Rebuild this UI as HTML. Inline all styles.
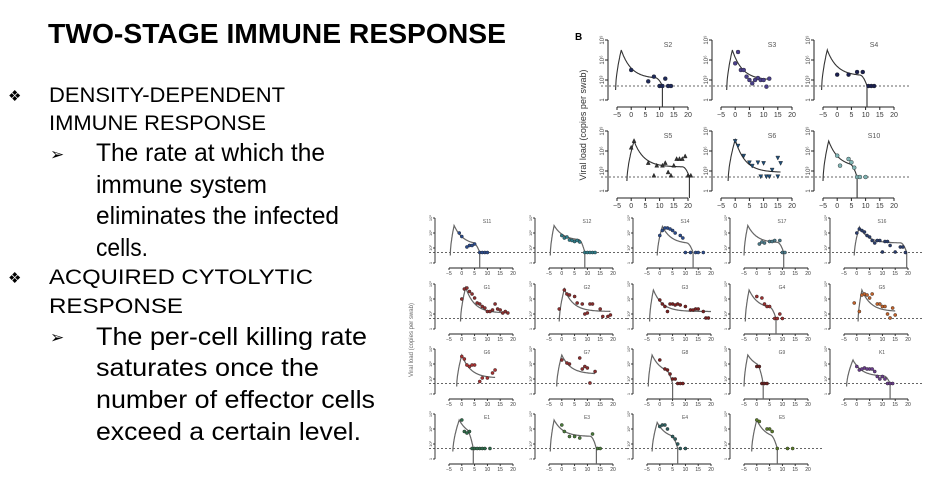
<!DOCTYPE html>
<html><head><meta charset="utf-8"><style>
body{margin:0;background:#fff;width:950px;height:477px;overflow:hidden}
svg{position:absolute;left:0;top:0}
</style></head><body>
<svg id="s" width="950" height="477" xmlns="http://www.w3.org/2000/svg" font-family="Liberation Sans, sans-serif">
<text x="48" y="43" font-size="28" font-weight="bold" textLength="458" lengthAdjust="spacingAndGlyphs">TWO-STAGE IMMUNE RESPONSE</text>
<g font-size="21">
<text x="8" y="101" font-size="15">❖</text>
<text x="49" y="102" textLength="236" lengthAdjust="spacingAndGlyphs">DENSITY-DEPENDENT</text>
<text x="49" y="130" textLength="217" lengthAdjust="spacingAndGlyphs">IMMUNE RESPONSE</text>
<text x="50" y="160" font-size="17">➢</text>
<g font-size="25">
<text x="96" y="161" textLength="229" lengthAdjust="spacingAndGlyphs">The rate at which the</text>
<text x="96" y="193" textLength="171" lengthAdjust="spacingAndGlyphs">immune system</text>
<text x="96" y="224" textLength="243" lengthAdjust="spacingAndGlyphs">eliminates the infected</text>
<text x="96" y="256" textLength="52" lengthAdjust="spacingAndGlyphs">cells.</text>
</g>
<text x="8" y="283" font-size="15">❖</text>
<text x="49" y="284" textLength="264" lengthAdjust="spacingAndGlyphs">ACQUIRED CYTOLYTIC</text>
<text x="49" y="313" textLength="134" lengthAdjust="spacingAndGlyphs">RESPONSE</text>
<text x="50" y="343" font-size="17">➢</text>
<g font-size="25">
<text x="96" y="345" textLength="271" lengthAdjust="spacingAndGlyphs">The per-cell killing rate</text>
<text x="96" y="376" textLength="223" lengthAdjust="spacingAndGlyphs">saturates once the</text>
<text x="96" y="408" textLength="279" lengthAdjust="spacingAndGlyphs">number of effector cells</text>
<text x="96" y="440" textLength="265" lengthAdjust="spacingAndGlyphs">exceed a certain level.</text>
</g>
</g>
<text x="575" y="40" font-size="10" font-weight="bold">B</text>
<text transform="translate(586,125) rotate(-90)" text-anchor="middle" font-size="9" fill="#333">Viral load (copies per swab)</text>
<text transform="translate(413,340) rotate(-90)" text-anchor="middle" font-size="6" fill="#666">Viral load (copies per swab)</text>
<g id="charts"></g>
</svg>
<script>
// panel names and model-curve parameters [start, peakX, peakY, plateauY, endX, dropX(or null)]
const topNames = ["S2","S3","S4","S5","S6","S10"];
const bottomNames = ["S11","S12","S14","S17","S16","G1","G2","G3","G4","G5","G6","G7","G8","G9","K1","E1","E3","E4","E5"];
const fitParams = {
S2:[-5.5,-3.5,7.5,3.2,11,11], S3:[-3,-1,7.5,3,12,null], S4:[-5.5,-3.5,7.5,3.6,10.5,10.5],
S5:[-1.5,1,7.5,3.6,20.5,20.5], S6:[-2.5,0,7.7,2.8,16,null], S10:[-5,-3,7.5,3.6,7,7],
S11:[-4.5,-3,7.5,3.6,7,7], S12:[-4.5,-3,7.5,4.5,9,9], S14:[-1,1,7.3,3.8,13,13], S17:[-5,-3.5,7.5,4,10.5,10.5],
S16:[-1,1,7.2,4,19.5,19.5], G1:[-0.5,1.5,8.3,3.2,18,null], G2:[-1,1,8,3.5,19,null], G3:[-4,-2.5,7.8,3.5,20,null],
G4:[-4.5,-3,7.8,4,7.5,7.5], G5:[0.5,2,7.8,3.5,15,null], G6:[-2,0,7.8,3.2,13,null], G7:[-2,0,7.8,4,13,null],
G8:[-4.5,-3,7.8,4,5,5], G9:[-5,-3.5,7.8,5,2.5,2.5], K1:[-4,-1.5,6.8,3.5,13,13], E1:[-3.5,-1,7.8,4.5,4.5,4.5],
E3:[-4.5,-3,7.8,4.5,13.5,13.5], E4:[-3,-1,7.3,4,7,7], E5:[-2,0,7.8,4,8,8]};
// observed points [day, log10 viral load]
const pointsS2=[[0,4.5],[6,2.8],[8,3.5],[10,2.1],[11,2.1],[12,3.2],[13,2.1],[14,2.1]];
const pointsS3=[[0,5.5],[1,7.2],[2,4.5],[3,4.5],[4,3.5],[5,3],[6,2.5],[7,3],[8,3.3],[9,3],[10,3],[11,2],[12,3.2]];
const pointsS4=[[0,3.8],[4,3.8],[7,4.2],[9,4.2],[11,2.1],[12,2.1],[13,2.1]];
const pointsS5=[[0,6.5],[1,7.5],[6,4.2],[8,2.3],[9,3.8],[11,3.8],[12,4.2],[13,2.8],[14,2.3],[15,3.8],[16,4.8],[17,4.8],[18,4.8],[19,5.2],[20,2.3],[21,2.3]];
const pointsS6=[[0,7.5],[1,6.8],[3,5.3],[5,4.3],[6,3.8],[8,4.3],[9,2.2],[10,4.2],[11,2.2],[12,2.2],[13,3.2],[15,5],[15,2.2],[16,4.2]];
const pointsS10=[[0,5.3],[1,3.8],[4,4.8],[5,4.3],[6,3.5],[7,2.1],[8,2.1],[10,2.1]];
const pointsS11=[[-1,6],[0,5.3],[2,3.2],[3,3.5],[4,3.5],[5,3.8],[7,2.1],[8,2.1],[9,2.1],[10,2.1]];
const pointsS12=[[0,5.5],[1,5],[2,5.2],[3,4.6],[4,4.5],[5,4.3],[6,4.5],[7,4.2],[9,2.1],[10,2.1],[11,2.1],[12,2.1],[13,2.1]];
const pointsS14=[[0,5.5],[1,6.5],[2,7],[3,7],[4,6.8],[5,6.5],[6,6],[8,5.5],[9,5],[10,2.1],[12,2.1],[14,2.1],[15,2.1],[17,2.1]];
const pointsS17=[[1,3.8],[2,4.2],[3,4],[5,4.3],[6,4.3],[7,4.5],[9,4.5],[10,2.1],[11,2.1]];
const pointsS16=[[0,6],[1,6.8],[2,6.5],[3,6.2],[4,5.5],[5,5.2],[6,4.5],[7,4],[8,4.5],[9,4.5],[10,2.2],[11,4.3],[12,4.3],[13,3.5],[15,2.2],[17,3.2],[18,3.2],[19,2.1]];
const pointsG1=[[0,6],[1,8],[2,8.2],[3,7.5],[4,7],[5,6.2],[6,5.2],[7,5],[8,4.5],[9,4.2],[10,3.5],[11,3.5],[12,3.8],[13,5],[14,4],[15,3.8],[16,3.2],[17,3.5],[18,3.2]];
const pointsG2=[[-1,4],[1,7.8],[2,7],[3,6.8],[5,6.5],[6,5.2],[8,5],[9,3],[10,3.2],[11,5],[12,5],[15,4],[16,2.5],[18,2.5],[19,2.8]];
const pointsG3=[[0,5.8],[1,5],[2,4.5],[3,3.5],[4,5],[5,5],[6,4.8],[7,5],[8,4.8],[10,4.5],[12,3.8],[13,3.8],[14,4],[15,4],[17,3.5],[18,2.2],[19,2.2]];
const pointsG4=[[0,6.5],[2,6.2],[3,5],[4,4.5],[5,4.5],[7,2.1],[8,2.1],[9,3],[10,2.1]];
const pointsG5=[[-1,5.2],[1,3.5],[2,6.8],[3,7],[4,6.8],[5,6.2],[6,7],[8,5],[9,5],[10,4.5],[11,4.5],[12,3],[13,2.2],[14,4.2],[15,2.8]];
const pointsG6=[[0,7.5],[1,7],[2,5.8],[3,5.5],[4,5.8],[5,5.8],[7,2.5],[8,3.2],[10,3.2],[12,4.2],[13,4.8]];
const pointsG7=[[0,6.8],[2,6.2],[3,6],[7,7.2],[8,5],[9,5.5],[10,5.2],[11,2.2],[13,4.5]];
const pointsG8=[[0,6.8],[2,5],[3,4.8],[4,4],[5,3],[6,3],[7,2.1],[8,2.1],[9,2.1]];
const pointsG9=[[0,5.5],[1,5.5],[2,2.1],[3,2.1],[4,2.1]];
const pointsK1=[[0,5.5],[1,4.8],[2,5],[3,5.2],[4,5],[5,5],[6,5],[7,4.5],[8,3.5],[9,3],[10,3.5],[11,3],[12,2.1],[13,2.1],[14,2.1]];
const pointsE1=[[0,7.8],[1,5.5],[2,5.2],[3,5.5],[4,2.1],[5,2.1],[6,2.1],[7,2.1],[8,2.1],[9,2.1],[11,2.1]];
const pointsE3=[[0,6.8],[1,5.5],[3,4.5],[5,4.5],[7,4.2],[12,5],[14,2.1],[15,2.1]];
const pointsE4=[[0,6.5],[1,6.8],[2,6.8],[3,6],[5,4.5],[6,4],[7,3],[8,2.1],[10,2.1]];
const pointsE5=[[0,7.8],[1,7.5],[4,6],[5,6],[6,5.5],[8,2.1],[12,2.1],[14,2.1]];
const xTicks=[-5,0,5,10,15,20];
const yTicks=[0,3,6,9];
const yTickLabels=["1","10³","10⁶","10⁹"];
const detectionLimit=2.1;

const pointSets={S2:pointsS2,S3:pointsS3,S4:pointsS4,S5:pointsS5,S6:pointsS6,S10:pointsS10,S11:pointsS11,S12:pointsS12,S14:pointsS14,S17:pointsS17,S16:pointsS16,G1:pointsG1,G2:pointsG2,G3:pointsG3,G4:pointsG4,G5:pointsG5,G6:pointsG6,G7:pointsG7,G8:pointsG8,G9:pointsG9,K1:pointsK1,E1:pointsE1,E3:pointsE3,E4:pointsE4,E5:pointsE5};
const colors={S2:"#1f2a5a",S3:"#4a3f8a",S4:"#1a1f4f",S5:"#333",S6:"#1f4e79",S10:"#7fb3b3",S11:"#2b4b8c",S12:"#2e7d8a",S14:"#2b4b8c",S17:"#4a7a8a",S16:"#2a3d6e",G1:"#8b2e2e",G2:"#8b2e2e",G3:"#7a2020",G4:"#9b3030",G5:"#c0622b",G6:"#a83232",G7:"#8b2e2e",G8:"#7a2020",G9:"#6a2020",K1:"#6a3d8a",E1:"#2e6b4a",E3:"#4a7a3a",E4:"#2e5e5e",E5:"#5a7a2a"};
const shapes={S5:"up",S6:"down"};
const NS="http://www.w3.org/2000/svg";
const root=document.getElementById('charts');
function mk(tag,attrs,parent){const e=document.createElementNS(NS,tag);for(const k in attrs)e.setAttribute(k,attrs[k]);parent.appendChild(e);return e;}

function modelY(p,x){
  const [x0,xp,yp,pl,xe,xd]=p;
  let y;
  if(x<=xp){const t=(x-x0)/(xp-x0);y=1.5+(yp-1.5)*Math.pow(t,0.6);}
  else{y=pl+(yp-pl)*Math.exp(-(x-xp)/3.5);}
  if(xd!==null&&x>xd-2.5){const t=(x-(xd-2.5))/2.5;y=y-(y-detectionLimit)*t*t;}
  return y;
}

function panel(name,ox,oy,L){
  const g=mk('g',{},root);
  
  
  const sx=v=>ox+L.x0+(v+5)/25*(L.x1-L.x0);
  const sy=v=>oy+L.h-(v/9)*L.h;
  const ya=mk('line',{x1:ox,y1:oy,x2:ox,y2:oy+L.h,stroke:'#222','stroke-width':L.sw},g);
  
  
  yTicks.forEach((t,i)=>{
    mk('line',{x1:ox-L.tk,y1:sy(t),x2:ox,y2:sy(t),stroke:'#222','stroke-width':L.sw},g);
    const lb=mk('text',{transform:`translate(${ox-L.tk-1},${sy(t)}) rotate(-90)`,'text-anchor':'middle','font-size':L.fs-1,fill:'#444'},g);
    lb.textContent=yTickLabels[i];
    
    
  });
  const xa=mk('line',{x1:sx(-5),y1:oy+L.h+L.gap,x2:sx(20),y2:oy+L.h+L.gap,stroke:'#222','stroke-width':L.sw},g);
  
  
  xTicks.forEach(t=>{
    mk('line',{x1:sx(t),y1:oy+L.h+L.gap,x2:sx(t),y2:oy+L.h+L.gap+L.tk,stroke:'#222','stroke-width':L.sw},g);
    const lb=mk('text',{x:sx(t),y:oy+L.h+L.gap+L.tk+L.fs,'text-anchor':'middle','font-size':L.fs,fill:'#333'},g);
    lb.textContent=t<0?'−'+(-t):t;
    
    
  });
  const dl=mk('line',{x1:ox-L.tk-4,y1:sy(detectionLimit),x2:ox+L.w,y2:sy(detectionLimit),stroke:'#333','stroke-width':0.8,'stroke-dasharray':'2,2'},g);
  
  
  const tt=mk('text',{x:ox+L.tx,y:oy+L.fs,'text-anchor':'middle','font-size':L.fs,fill:'#555'},g);
  tt.textContent=name;
  
  
  const p=fitParams[name];
  let d='';
  for(let x=p[0];x<=p[4]+1e-6;x+=0.1){d+=(d?'L':'M')+sx(x).toFixed(1)+','+sy(modelY(p,x)).toFixed(1);}
  if(p[5]!==null){d+='L'+sx(p[5]).toFixed(1)+','+(sy(0)+L.gap).toFixed(1);}
  const c=mk('path',{d:d,fill:'none',stroke:L.cc,'stroke-width':L.cw},g);
  
  
  const col=colors[name];
  pointSets[name].forEach(pt=>{
    const x=sx(pt[0]),y=sy(pt[1]),r=L.r;let m;
    if(shapes[name]==='up')m=mk('polygon',{points:`${x},${y-r*1.2} ${x-r},${y+r*0.8} ${x+r},${y+r*0.8}`,fill:col,stroke:'#111','stroke-width':0.4},g);
    else if(shapes[name]==='down')m=mk('polygon',{points:`${x},${y+r*1.2} ${x-r},${y-r*0.8} ${x+r},${y-r*0.8}`,fill:col,stroke:'#111','stroke-width':0.4},g);
    else m=mk('circle',{cx:x,cy:y,r:r,fill:col,stroke:'#222','stroke-width':0.4},g);
    
    
  });
}
const topL={x0:9,x1:80,h:60,gap:7,tk:3,fs:7,sw:1,w:95,tx:60,r:2,cc:'#333',cw:1.1};
const botL={x0:14,x1:78,h:45,gap:5,tk:2,fs:5,sw:0.9,w:92,tx:52,r:1.6,cc:'#666',cw:1.2};
const topX=[608,712,814],topY=[40,131];
topNames.forEach((n,i)=>panel(n,topX[i%3],topY[Math.floor(i/3)],topL));
const botX=[435,535,633,730,830],botY=[218,284,349,414];
bottomNames.forEach((n,i)=>panel(n,botX[i%5],botY[Math.floor(i/5)],botL));
</script>
</body></html>
